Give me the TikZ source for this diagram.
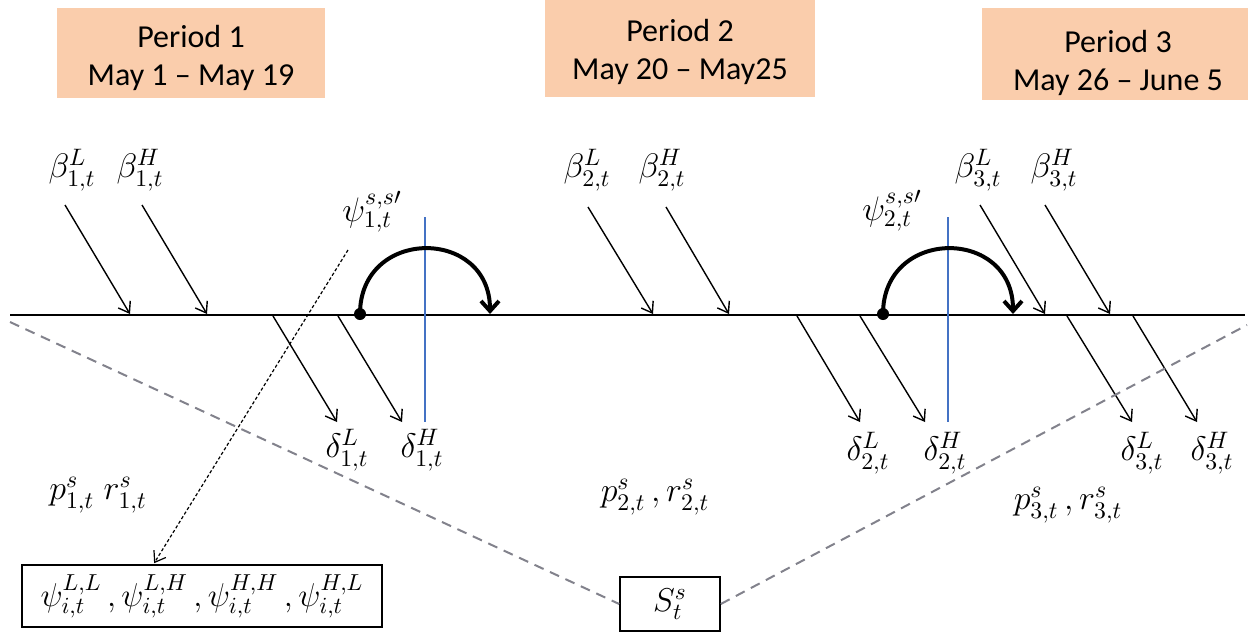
\RequirePackage{fix-cm}
\documentclass[tikz,border=0pt]{standalone}
\usepackage{fontspec}
\setmainfont{Carlito}
\usetikzlibrary{arrows.meta}
\definecolor{peach}{RGB}{250,205,172}
\definecolor{lineblue}{RGB}{68,114,196}
\definecolor{dashgray}{RGB}{130,130,140}
\begin{document}
\begin{tikzpicture}[x=0.5pt,y=-0.5pt,
  periodtext/.style={inner sep=0pt, align=center, font=\fontsize{16}{19}\selectfont},
  lab/.style={inner sep=0pt, font=\fontsize{17}{20}\selectfont},
  thinarrow/.style={line width=0.7pt, -{Straight Barb[length=5pt,width=7pt,line width=0.7pt]}},
  mainline/.style={line width=1pt},
  bluebar/.style={line width=0.8pt, lineblue},
  jumparrow/.style={line width=2pt, -{Straight Barb[length=5pt,width=9pt,line width=2pt]}},
  dotarrow/.style={line width=0.6pt, dash pattern=on 1.6pt off 1.1pt, -{Straight Barb[length=5pt,width=7pt,line width=0.6pt,sep]}},
  grayline/.style={line width=1pt, dashgray, dash pattern=on 5pt off 3.5pt},
  boxed/.style={draw, line width=0.8pt, inner sep=0pt, font=\fontsize{16.5}{19}\selectfont}
]
\useasboundingbox (0,0) rectangle (1248,632);

% period boxes
\fill[peach] (57,8) rectangle (325,98);
\fill[peach] (545,0) rectangle (815,97);
\fill[peach] (982,8) rectangle (1248,100);
\node[periodtext] (per1) at (191,58) {Period 1\\May 1 -- May 19};
\node[periodtext] (per2) at (680,52) {Period 2\\May 20 -- May25};
\node[periodtext] (per3) at (1118,63) {Period 3\\May 26 -- June 5};

% main time line
\coordinate (ml) at (10,315);
\coordinate (mr) at (1245,315);
\draw[mainline] (ml) -- (mr);

% beta labels and arrows
\node[lab] (b1L) at (72,170) {$\beta^{L}_{1,t}$};
\node[lab] (b1H) at (140,170) {$\beta^{H}_{1,t}$};
\node[lab] (b2L) at (587,170) {$\beta^{L}_{2,t}$};
\node[lab] (b2H) at (662,170) {$\beta^{H}_{2,t}$};
\node[lab] (b3L) at (978,170) {$\beta^{L}_{3,t}$};
\node[lab] (b3H) at (1054,170) {$\beta^{H}_{3,t}$};
\coordinate (b1Ls) at (65,205);  \coordinate (b1Le) at (130,314);
\coordinate (b1Hs) at (142,205); \coordinate (b1He) at (207,314);
\coordinate (b2Ls) at (588,207); \coordinate (b2Le) at (653,314);
\coordinate (b2Hs) at (666,207); \coordinate (b2He) at (729,314);
\coordinate (b3Ls) at (980,205); \coordinate (b3Le) at (1045,314);
\coordinate (b3Hs) at (1045,205); \coordinate (b3He) at (1110,314);
\draw[thinarrow] (b1Ls) -- (b1Le);
\draw[thinarrow] (b1Hs) -- (b1He);
\draw[thinarrow] (b2Ls) -- (b2Le);
\draw[thinarrow] (b2Hs) -- (b2He);
\draw[thinarrow] (b3Ls) -- (b3Le);
\draw[thinarrow] (b3Hs) -- (b3He);

% delta arrows and labels
\coordinate (d1Ls) at (273,316); \coordinate (d1Le) at (337,422);
\coordinate (d1Hs) at (338,316); \coordinate (d1He) at (402,422);
\coordinate (d2Ls) at (797,316); \coordinate (d2Le) at (860,422);
\coordinate (d2Hs) at (860,316); \coordinate (d2He) at (925,422);
\coordinate (d3Ls) at (1067,316); \coordinate (d3Le) at (1132,422);
\coordinate (d3Hs) at (1133,316); \coordinate (d3He) at (1197,422);
\draw[thinarrow] (d1Ls) -- (d1Le);
\draw[thinarrow] (d1Hs) -- (d1He);
\draw[thinarrow] (d2Ls) -- (d2Le);
\draw[thinarrow] (d2Hs) -- (d2He);
\draw[thinarrow] (d3Ls) -- (d3Le);
\draw[thinarrow] (d3Hs) -- (d3He);
\node[lab] (d1L) at (347,450) {$\delta^{L}_{1,t}$};
\node[lab] (d1H) at (422,450) {$\delta^{H}_{1,t}$};
\node[lab] (d2L) at (868,453) {$\delta^{L}_{2,t}$};
\node[lab] (d2H) at (945,453) {$\delta^{H}_{2,t}$};
\node[lab] (d3L) at (1142,453) {$\delta^{L}_{3,t}$};
\node[lab] (d3H) at (1212,453) {$\delta^{H}_{3,t}$};

% blue period markers
\coordinate (v1t) at (425,217); \coordinate (v1b) at (425,422);
\coordinate (v2t) at (948,217); \coordinate (v2b) at (948,422);
\draw[bluebar] (v1t) -- (v1b);
\draw[bluebar] (v2t) -- (v2b);

% psi labels and switching arcs
\node[lab] (psi1) at (372,212) {$\psi^{s,s\prime}_{1,t}$};
\node[lab] (psi2) at (892,211) {$\psi^{s,s\prime}_{2,t}$};
\node[circle, fill, inner sep=0pt, minimum size=6pt] (dot1) at (360,314) {};
\node[circle, fill, inner sep=0pt, minimum size=6pt] (dot2) at (883,314) {};
\coordinate (j1e) at (490,314);
\coordinate (j2e) at (1013,314);
\draw[jumparrow] (dot1.center) .. controls (360,227) and (490,227) .. (j1e);
\draw[jumparrow] (dot2.center) .. controls (883,227) and (1013,227) .. (j2e);

% prices
\node[lab] (pr1) at (98,495) {$p^{s}_{1,t}\;r^{s}_{1,t}$};
\node[lab] (pr2) at (655,497) {$p^{s}_{2,t}\,,r^{s}_{2,t}$};
\node[lab] (pr3) at (1068,505) {$p^{s}_{3,t}\,,r^{s}_{3,t}$};

% boxes at bottom
\node[boxed, minimum width=180pt, minimum height=31pt] (psibox) at (202,596)
  {$\psi^{L,L}_{i,t}\,,\psi^{L,H}_{i,t}\,,\psi^{H,H}_{i,t}\,,\psi^{H,L}_{i,t}$};
\node[boxed, minimum width=50pt, minimum height=27pt] (Sbox) at (670,604) {$S^{s}_{t}$};

% dotted link from psi to box
\coordinate (dots) at (348,250);
\coordinate (dote) at (153,565);
\draw[dotarrow] (dots) -- (dote);

% gray dashed lines
\coordinate (gl) at (10,322);
\coordinate (gr) at (1247,325);
\draw[grayline] (gl) -- (Sbox.west);
\draw[grayline] (Sbox.east) -- (gr);
\end{tikzpicture}
\end{document}
